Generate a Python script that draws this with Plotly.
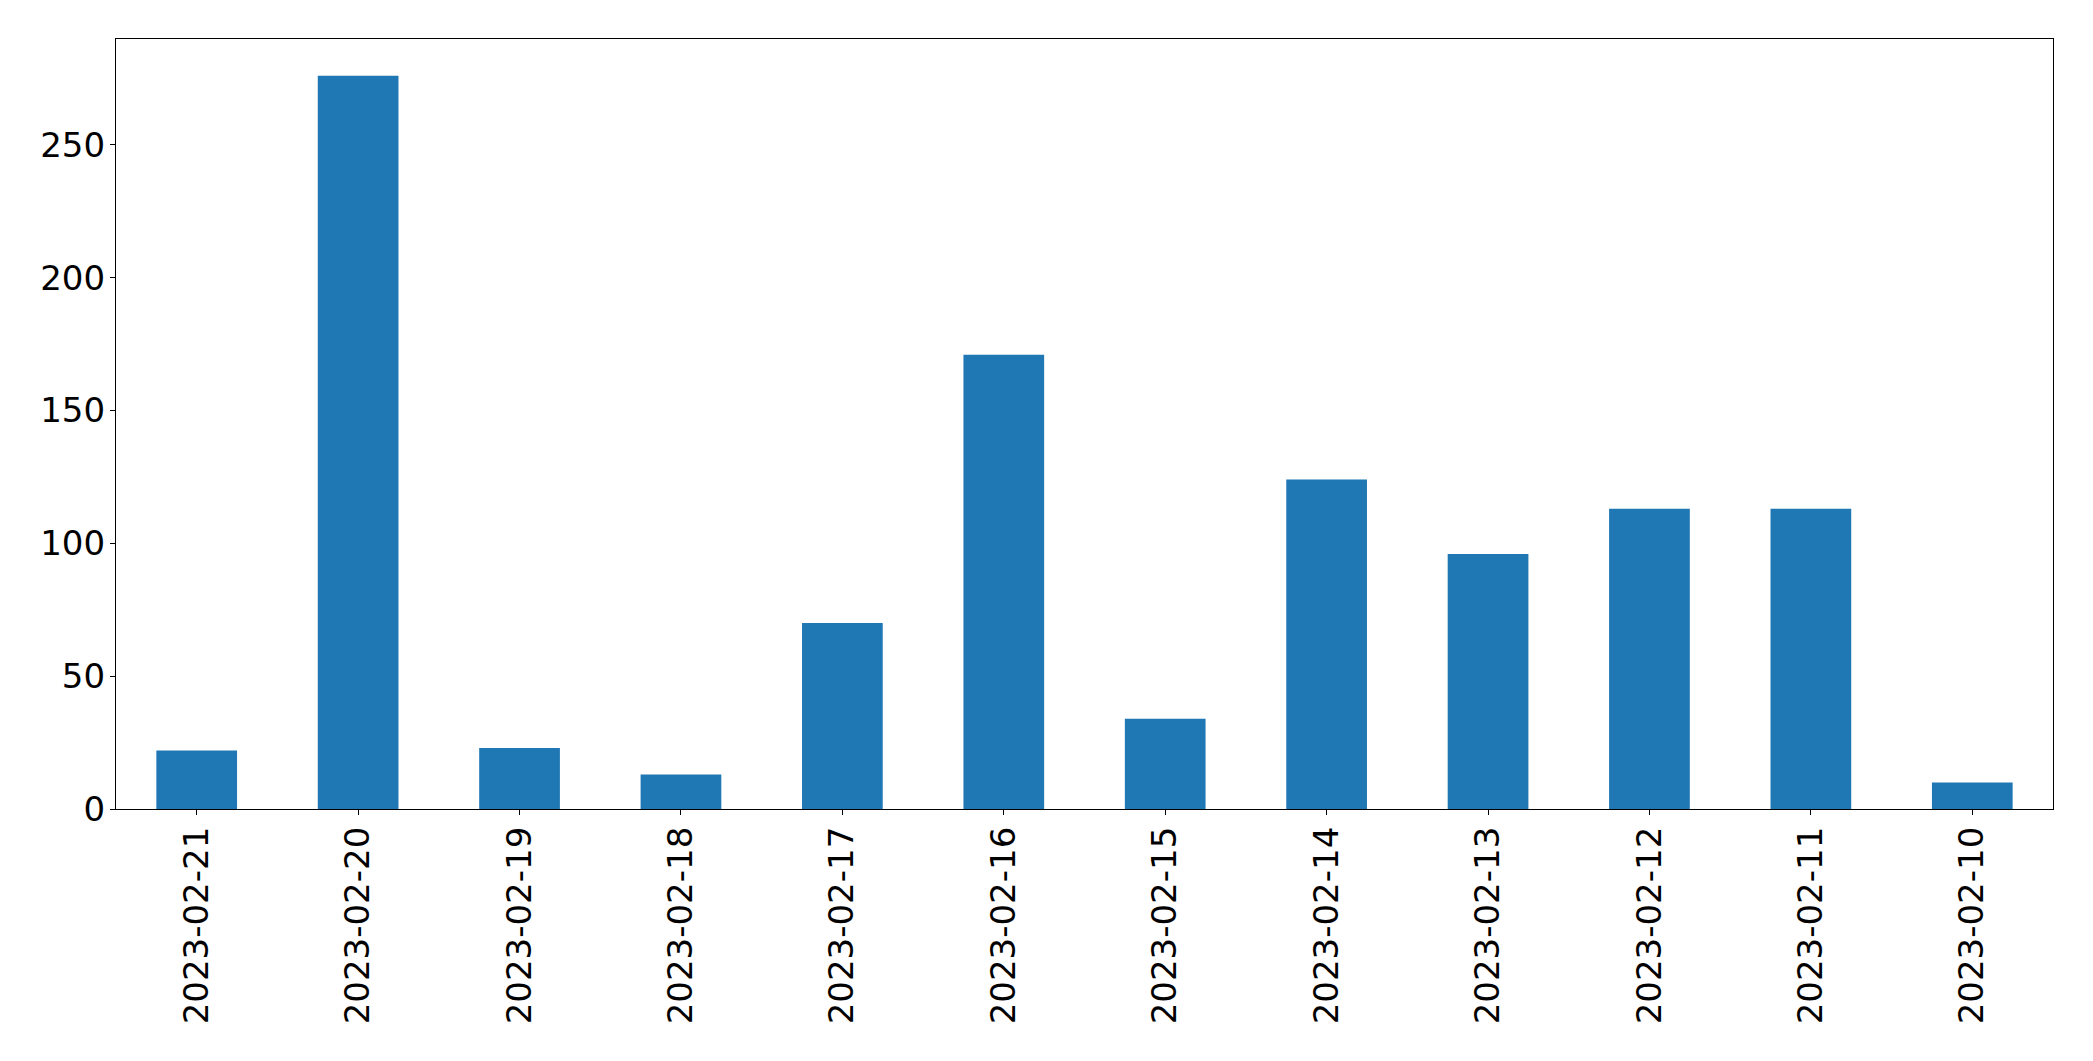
import plotly.graph_objects as go

dates = ["2023-02-21", "2023-02-20", "2023-02-19", "2023-02-18", "2023-02-17", "2023-02-16",
         "2023-02-15", "2023-02-14", "2023-02-13", "2023-02-12", "2023-02-11", "2023-02-10"]
counts = [22, 276, 23, 13, 70, 171, 34, 124, 96, 113, 113, 10]
y_ticks = [0, 50, 100, 150, 200, 250]

FONT = dict(family="DejaVu Sans", size=34, color="black")

fig = go.Figure(go.Bar(
    x=list(range(len(dates))),
    y=counts,
    width=0.5,
    marker=dict(color="#1f77b4", line=dict(width=0)),
))

fig.update_layout(
    width=2093, height=1061,
    margin=dict(l=108, r=48, t=31, b=260),
    paper_bgcolor="white", plot_bgcolor="white",
    showlegend=False,
    font=FONT,
)
fig.update_xaxes(
    range=[-0.5, len(dates) - 0.5],
    tickmode="array", tickvals=list(range(len(dates))), ticktext=dates,
    tickangle=-90,
    showline=True, linecolor="black", linewidth=1.3, mirror=True,
    ticks="outside", ticklen=5, tickwidth=1.3, tickcolor="black",
    ticklabelstandoff=-2,
    showgrid=False, zeroline=False,
    tickfont=FONT,
)
fig.update_yaxes(
    range=[0, max(counts) * 1.05],
    tickmode="array", tickvals=y_ticks,
    showline=True, linecolor="black", linewidth=1.3, mirror=True,
    ticks="outside", ticklen=5, tickwidth=1.3, tickcolor="black",
    ticklabelstandoff=-2,
    showgrid=False, zeroline=False,
    tickfont=FONT,
)

fig.write_html("out.html")
